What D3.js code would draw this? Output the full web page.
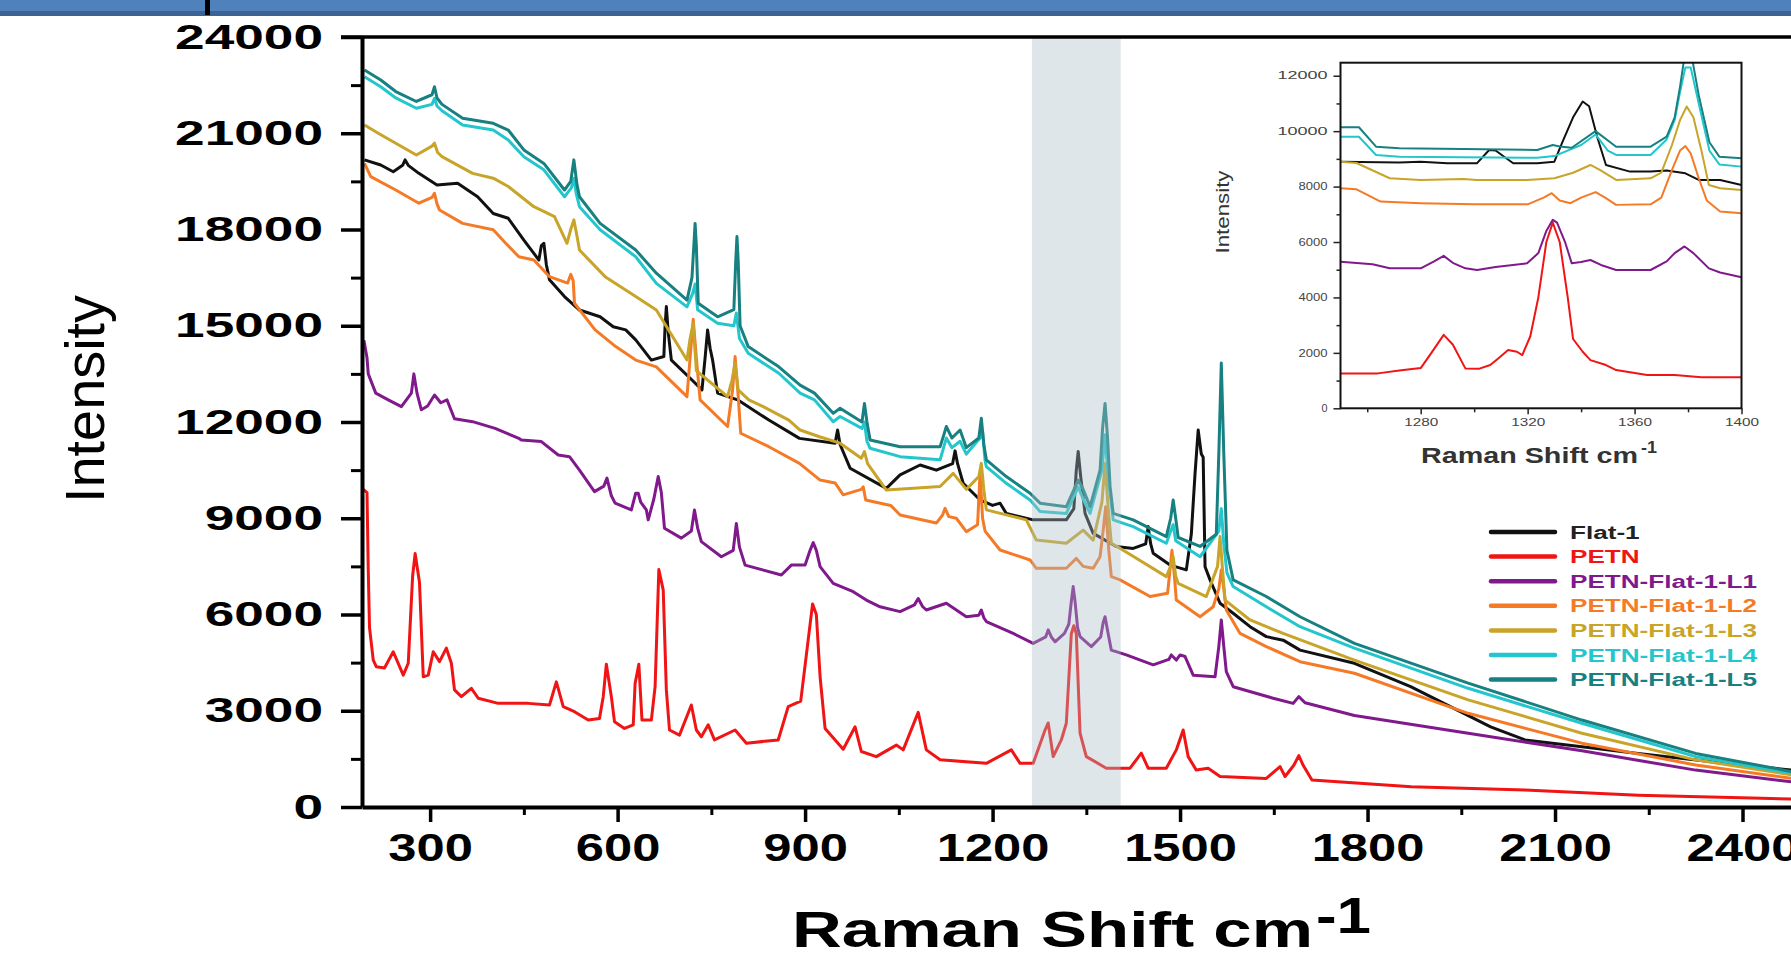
<!DOCTYPE html>
<html>
<head>
<meta charset="utf-8">
<script src="https://cdn.jsdelivr.net/npm/d3@7"></script>
<style>
  body { margin: 0; background: #fff; }
  svg { display: block; font-family: "Liberation Sans", Arial, sans-serif; }
</style>
</head>
<body>
<div id="chart"></div>
<script>
// series, in drawing order
const seriesNames = ["Flat-1", "PETN", "PETN-Flat-1-L1", "PETN-Flat-1-L2", "PETN-Flat-1-L3", "PETN-Flat-1-L4", "PETN-Flat-1-L5"];
const seriesColors = ["#111111", "#f01414", "#80198c", "#f57a26", "#c8a428", "#22c6cc", "#178080"];

// main spectra: [raman shift, intensity]
const flat1 = [[195,20170],[221,20010],[241,19800],[256,20000],[260,20170],[265,20000],[282,19750],[311,19390],[344,19440],[376,19020],[401,18500],[425,18350],[450,17670],[474,17050],[478,17500],[482,17570],[486,16900],[491,16430],[515,15910],[539,15490],[572,15280],[593,14970],[613,14870],[629,14560],[654,13930],[674,14040],[676,15000],[678,15600],[681,14800],[686,13930],[719,13310],[735,13000],[740,14000],[744,14870],[748,14300],[752,13930],[760,12900],[792,12690],[842,12060],[891,11490],[948,11340],[952,11750],[956,11300],[972,10560],[1030,9930],[1052,10350],[1084,10660],[1110,10500],[1136,10700],[1140,11100],[1144,10700],[1153,10090],[1180,9570],[1200,9400],[1212,9470],[1222,9150],[1265,8950],[1318,8950],[1330,9300],[1334,10500],[1337,11080],[1341,10300],[1348,9150],[1361,8530],[1398,8120],[1425,8060],[1445,8200],[1449,8740],[1453,8200],[1457,7910],[1484,7540],[1510,7390],[1518,8500],[1524,10400],[1529,11750],[1534,11000],[1537,10900],[1540,7490],[1548,7080],[1564,6350],[1585,6040],[1612,5620],[1638,5310],[1665,5200],[1692,4890],[1779,4480],[1869,3750],[1997,2500],[2052,2090],[2143,1880],[2233,1670],[2397,1310],[2480,1150]];
const petn = [[193,9900],[199,9800],[201,7400],[203,5600],[209,4580],[214,4370],[227,4330],[241,4840],[257,4110],[265,4480],[272,7200],[276,7900],[283,7000],[289,4060],[297,4110],[305,4840],[315,4530],[326,4950],[334,4480],[339,3650],[350,3440],[366,3700],[377,3390],[409,3230],[457,3230],[491,3180],[502,3900],[513,3130],[531,2970],[553,2710],[571,2760],[577,3440],[582,4450],[590,3440],[595,2660],[611,2450],[625,2560],[628,3850],[634,4450],[639,2710],[654,2710],[660,3750],[666,7400],[673,6760],[678,3650],[683,2400],[699,2240],[718,3180],[726,2400],[734,2190],[745,2560],[755,2090],[788,2400],[806,1990],[857,2090],[873,3130],[893,3300],[912,6330],[918,6000],[924,4060],[932,2450],[961,1800],[980,2500],[990,1730],[1014,1570],[1046,1930],[1057,1780],[1081,2950],[1094,1780],[1116,1470],[1190,1360],[1230,1780],[1244,1360],[1265,1360],[1284,2400],[1289,2620],[1297,1570],[1310,2090],[1318,2610],[1326,5400],[1330,5650],[1334,5400],[1340,2300],[1350,1570],[1382,1210],[1420,1210],[1438,1680],[1449,1210],[1478,1210],[1494,1780],[1505,2400],[1513,1570],[1526,1150],[1545,1210],[1564,950],[1638,890],[1660,1260],[1668,950],[1682,1300],[1690,1600],[1697,1300],[1711,840],[1870,630],[2052,530],[2233,370],[2415,280],[2480,250]];
const petnL1 = [[194,14550],[199,14000],[201,13500],[213,12900],[233,12690],[254,12480],[270,12900],[274,13500],[279,12900],[286,12380],[296,12500],[307,12840],[317,12600],[327,12690],[339,12100],[368,12010],[404,11800],[442,11490],[446,11440],[478,11390],[505,10970],[523,10920],[531,10710],[539,10500],[563,9830],[578,10000],[583,10250],[590,9700],[596,9470],[622,9260],[629,9780],[633,9780],[637,9500],[646,9260],[649,8950],[658,9600],[665,10300],[670,9800],[675,8690],[702,8380],[718,8600],[723,9260],[728,8700],[734,8270],[766,7800],[785,8000],[790,8840],[795,8100],[804,7540],[862,7230],[878,7540],[900,7540],[908,8000],[913,8240],[918,8000],[924,7490],[945,6970],[977,6710],[998,6450],[1020,6240],[1052,6090],[1075,6300],[1081,6500],[1088,6250],[1094,6140],[1126,6350],[1158,5930],[1178,5980],[1182,6140],[1186,5900],[1190,5780],[1233,5410],[1265,5100],[1285,5300],[1289,5520],[1294,5300],[1300,5150],[1315,5410],[1322,5700],[1326,6400],[1329,6870],[1332,6400],[1336,5600],[1340,5310],[1358,5000],[1373,5300],[1377,5750],[1380,5930],[1384,5500],[1390,4890],[1414,4740],[1457,4430],[1482,4600],[1486,4740],[1494,4580],[1500,4740],[1508,4690],[1521,4110],[1556,4060],[1562,5000],[1566,5830],[1570,5000],[1574,4220],[1585,3750],[1649,3390],[1681,3230],[1690,3440],[1700,3250],[1779,2850],[1961,2300],[2143,1750],[2325,1150],[2480,780]];
const petnL2 = [[195,20060],[205,19650],[245,19230],[282,18820],[303,19000],[307,19130],[311,18800],[315,18610],[352,18190],[401,17990],[421,17570],[442,17150],[466,17050],[491,16530],[520,16330],[525,16600],[529,16400],[531,15700],[564,14870],[597,14350],[629,13930],[662,13720],[711,12790],[716,14000],[721,15200],[726,14000],[732,12690],[776,11860],[784,13000],[788,14040],[793,12800],[797,11650],[842,11230],[891,10710],[924,10190],[948,10100],[961,9730],[990,9900],[993,9980],[997,9570],[1037,9400],[1052,9100],[1110,8850],[1120,9100],[1124,9310],[1130,9050],[1142,9000],[1158,8580],[1176,8800],[1180,10400],[1184,9000],[1188,8600],[1212,8010],[1260,7700],[1270,7440],[1318,7440],[1334,7750],[1345,7500],[1361,7440],[1372,7800],[1377,8630],[1381,9360],[1386,8000],[1390,7180],[1404,7080],[1452,6560],[1480,6660],[1484,7400],[1487,8000],[1491,7200],[1494,6450],[1532,5930],[1553,6240],[1562,6800],[1566,7390],[1570,6800],[1574,6140],[1596,5410],[1638,5000],[1692,4530],[1779,4170],[1961,2920],[2143,1990],[2325,1310],[2480,890]];
const petnL3 = [[195,21260],[217,21000],[245,20690],[278,20320],[303,20600],[307,20690],[312,20400],[319,20270],[368,19750],[401,19600],[425,19340],[466,18710],[499,18400],[519,17570],[525,18000],[530,18300],[535,17800],[539,17360],[580,16530],[629,15910],[662,15490],[711,13930],[716,14600],[721,15080],[726,13600],[776,12790],[783,13300],[788,13830],[793,13000],[810,12690],[833,12480],[874,12060],[892,11750],[923,11540],[956,11340],[990,10870],[995,11080],[1000,10700],[1030,9880],[1116,9990],[1137,10400],[1158,9900],[1178,10300],[1182,10710],[1186,9900],[1190,9260],[1254,8950],[1270,8320],[1318,8220],[1345,8630],[1361,8320],[1375,9500],[1380,10710],[1385,9300],[1390,8220],[1417,7910],[1478,7180],[1485,7500],[1489,7800],[1493,7200],[1497,6970],[1542,6560],[1560,7500],[1564,8430],[1568,7400],[1572,6450],[1612,5830],[1665,5410],[1779,4580],[1961,3340],[2143,2300],[2325,1470],[2480,1000]];
const petnL4 = [[195,22760],[221,22450],[245,22100],[278,21780],[303,21900],[307,22090],[311,21850],[319,21700],[352,21260],[401,21100],[425,20790],[450,20270],[482,19860],[515,19020],[526,19300],[530,19600],[534,19100],[539,18710],[572,17990],[629,17150],[662,16320],[711,15590],[720,16000],[724,16300],[728,15500],[760,15080],[786,15000],[790,15400],[795,14600],[809,14140],[858,13520],[892,12900],[915,12690],[945,12010],[956,12170],[991,11800],[995,12000],[999,11400],[1004,11180],[1052,10920],[1116,10820],[1126,11500],[1135,11200],[1148,11400],[1158,11000],[1180,11500],[1184,11700],[1188,10800],[1190,10610],[1222,10090],[1260,9570],[1276,9210],[1318,9150],[1337,9980],[1345,9600],[1356,9150],[1375,10500],[1380,11600],[1385,10300],[1393,8950],[1425,8740],[1478,8220],[1485,8600],[1489,8800],[1493,8300],[1532,7800],[1562,8600],[1566,9300],[1570,8200],[1575,7300],[1585,6870],[1638,6240],[1692,5620],[1779,4950],[1961,3700],[2143,2610],[2325,1570],[2480,1050]];
const petnL5 = [[195,22970],[221,22660],[245,22300],[278,21990],[303,22200],[307,22450],[311,22100],[319,21900],[352,21470],[401,21310],[425,21100],[450,20480],[482,20060],[515,19230],[525,19500],[530,20170],[535,19400],[539,19020],[572,18190],[629,17360],[662,16640],[711,15800],[719,16500],[722,17500],[724,18190],[726,17500],[729,15700],[760,15280],[786,15500],[789,17000],[791,17780],[793,17000],[796,15000],[809,14350],[858,13720],[892,13150],[915,12900],[945,12270],[956,12430],[991,12000],[995,12580],[999,12000],[1004,11440],[1052,11230],[1116,11230],[1122,11600],[1126,11860],[1135,11500],[1148,11750],[1158,11200],[1178,11500],[1182,12120],[1186,11300],[1190,10820],[1222,10300],[1260,9780],[1276,9470],[1318,9360],[1337,10190],[1345,9900],[1356,9360],[1372,10500],[1376,11800],[1380,12580],[1384,11500],[1388,10000],[1393,9150],[1425,8950],[1478,8430],[1485,9000],[1489,9570],[1493,9000],[1497,8400],[1532,8120],[1558,8500],[1562,11000],[1566,13840],[1570,11000],[1575,8000],[1585,7080],[1638,6560],[1692,5930],[1779,5100],[1961,3860],[2143,2710],[2325,1670],[2480,1100]];

// inset spectra, 1250-1400 cm-1
const insetFlat1 = [[1250,8900],[1272,8870],[1280,8900],[1290,8840],[1301,8840],[1305.6,9320],[1308,9300],[1314.6,8840],[1323.6,8840],[1330,8900],[1333,9600],[1337,10500],[1340.6,11070],[1343,10900],[1346,9800],[1349.3,8780],[1358.3,8540],[1366,8540],[1372,8580],[1379,8480],[1384,8240],[1392,8240],[1400,8060]];
const insetPetn = [[1250,1260],[1264,1260],[1272,1360],[1280,1450],[1284,2000],[1288.6,2650],[1292,2300],[1296.7,1440],[1302,1430],[1306,1560],[1309,1800],[1312.7,2100],[1316,2040],[1318,1920],[1321,2600],[1324,4000],[1327,6000],[1329.4,6700],[1332,6000],[1335,4000],[1337,2500],[1340.6,2040],[1343.5,1740],[1349.3,1560],[1353.1,1380],[1364.7,1200],[1375,1200],[1385,1120],[1400,1120]];
const insetL1 = [[1250,5290],[1262,5200],[1268.4,5050],[1280,5050],[1285,5300],[1288.6,5500],[1292,5250],[1296.7,5050],[1301.1,4990],[1308,5100],[1319.8,5230],[1324,5600],[1327,6400],[1329.4,6800],[1331,6700],[1334,6000],[1336.5,5230],[1340,5280],[1343.5,5350],[1348,5150],[1353.1,4990],[1366,4990],[1372,5300],[1375,5600],[1378.7,5840],[1382,5600],[1387.8,5050],[1392,4900],[1400,4730]];
const insetL2 = [[1250,7940],[1256,7900],[1265,7460],[1280,7400],[1300,7360],[1320,7360],[1326,7600],[1329,7760],[1332,7500],[1336,7400],[1340,7600],[1345.4,7800],[1349,7600],[1353.1,7340],[1366,7360],[1370,7600],[1374,8600],[1377,9300],[1379,9460],[1381,9200],[1384,8300],[1387,7500],[1392,7100],[1400,7040]];
const insetL3 = [[1250,8900],[1256,8850],[1268.4,8300],[1280,8240],[1296,8270],[1301,8240],[1319.8,8240],[1330,8300],[1337,8500],[1343.5,8780],[1347,8600],[1353.1,8240],[1366,8300],[1370,8500],[1374,9500],[1377,10400],[1379.5,10890],[1382,10500],[1385,9300],[1387.8,8060],[1392,7940],[1400,7880]];
const insetL4 = [[1250,9800],[1256.9,9800],[1263.3,9140],[1272,9080],[1323.6,9040],[1330,9100],[1340,9500],[1345.4,9880],[1350,9300],[1353.1,9140],[1366,9140],[1372,9700],[1375,10400],[1377,11400],[1379,12300],[1381,12300],[1384,11000],[1388,9300],[1391.7,8800],[1400,8720]];
const insetL5 = [[1250,10140],[1256.9,10140],[1263.3,9440],[1272,9380],[1323.6,9320],[1329.4,9500],[1332,9450],[1336.5,9400],[1345.4,10000],[1353.1,9440],[1366,9440],[1372,9800],[1375,10500],[1377,11600],[1379,12900],[1381,12900],[1384,11300],[1388,9600],[1391.7,9080],[1400,9020]];

const mainSeries = [flat1, petn, petnL1, petnL2, petnL3, petnL4, petnL5];
const insetSeries = [insetFlat1, insetPetn, insetL1, insetL2, insetL3, insetL4, insetL5];

const xTicks = [300, 600, 900, 1200, 1500, 1800, 2100, 2400];
const xMinor = [450, 750, 1050, 1350, 1650, 1950, 2250];
const yTicks = [0, 3000, 6000, 9000, 12000, 15000, 18000, 21000, 24000];
const yMinor = [1500, 4500, 7500, 10500, 13500, 16500, 19500, 22500];
const insetXTicks = [1280, 1320, 1360, 1400];
const insetXMinor = [1260, 1300, 1340, 1380];
const insetYTicks = [0, 2000, 4000, 6000, 8000, 10000, 12000];
const insetYMinor = [1000, 3000, 5000, 7000, 9000, 11000];
const band = [1263, 1405];

const W = 1791, H = 959;
const plain = d3.format("d");
const svg = d3.select("#chart").append("svg")
    .attr("width", W)
    .attr("height", H);

function stretch(sel, k) {
    sel.each(function () {
        const w = this.getComputedTextLength();
        d3.select(this).attr("textLength", w * k).attr("lengthAdjust", "spacingAndGlyphs");
    });
}

// slide banner at the top
svg.append("rect").attr("x", 0).attr("y", 0).attr("width", W).attr("height", 12).attr("fill", "#4f81bd");
svg.append("rect").attr("x", 0).attr("y", 11).attr("width", W).attr("height", 5).attr("fill", "#3d6394");
svg.append("rect").attr("x", 205).attr("y", 0).attr("width", 5).attr("height", 15).attr("fill", "#000");

// main scales
const x = d3.scaleLinear().domain([191, 2500]).range([362, 1805]);
const y = d3.scaleLinear().domain([0, 24000]).range([807, 37]);

svg.append("clipPath").attr("id", "plotClip")
    .append("rect").attr("x", 362).attr("y", 37).attr("width", W - 362).attr("height", 770);

const line = d3.line().x(d => x(d[0])).y(d => y(d[1]));

svg.append("g")
    .attr("clip-path", "url(#plotClip)")
    .selectAll("path")
    .data(mainSeries)
    .enter().append("path")
    .attr("d", line)
    .attr("fill", "none")
    .attr("stroke", (d, i) => seriesColors[i])
    .attr("stroke-width", 3)
    .attr("stroke-linejoin", "round");

// highlighted region, drawn over the lines
svg.append("rect")
    .attr("x", x(band[0]))
    .attr("y", y(24000))
    .attr("width", x(band[1]) - x(band[0]))
    .attr("height", y(0) - y(24000))
    .attr("fill", "rgb(170,190,196)")
    .attr("opacity", 0.38);

// y axis
const yAxis = svg.append("g")
    .attr("transform", "translate(362,0)")
    .call(d3.axisLeft(y).tickValues(yTicks).tickFormat(plain).tickSize(21).tickPadding(18).tickSizeOuter(0));
yAxis.select(".domain").attr("stroke", "#000").attr("stroke-width", 4);
yAxis.selectAll(".tick line").attr("stroke", "#000").attr("stroke-width", 3.5);
yAxis.selectAll(".tick text")
    .attr("fill", "#000")
    .attr("font-family", "Liberation Sans, Arial, sans-serif")
    .attr("font-size", 35)
    .attr("font-weight", "bold")
    .call(stretch, 1.52);

const yMinorAxis = svg.append("g")
    .attr("transform", "translate(362,0)")
    .call(d3.axisLeft(y).tickValues(yMinor).tickSize(11).tickFormat(""));
yMinorAxis.select(".domain").remove();
yMinorAxis.selectAll(".tick line").attr("stroke", "#000").attr("stroke-width", 3);

// x axis
const xAxis = svg.append("g")
    .attr("transform", "translate(0,807)")
    .call(d3.axisBottom(x).tickValues(xTicks).tickFormat(plain).tickSize(15).tickPadding(11).tickSizeOuter(0));
xAxis.select(".domain").attr("stroke", "#000").attr("stroke-width", 4);
xAxis.selectAll(".tick line").attr("stroke", "#000").attr("stroke-width", 3.5);
xAxis.selectAll(".tick text")
    .attr("fill", "#000")
    .attr("font-family", "Liberation Sans, Arial, sans-serif")
    .attr("font-size", 39)
    .attr("font-weight", "bold")
    .call(stretch, 1.3);

const xMinorAxis = svg.append("g")
    .attr("transform", "translate(0,807)")
    .call(d3.axisBottom(x).tickValues(xMinor).tickSize(8).tickFormat(""));
xMinorAxis.select(".domain").remove();
xMinorAxis.selectAll(".tick line").attr("stroke", "#000").attr("stroke-width", 3);

// top frame line
svg.append("line")
    .attr("x1", 341).attr("x2", W)
    .attr("y1", y(24000)).attr("y2", y(24000))
    .attr("stroke", "#000").attr("stroke-width", 3.5);

// axis titles
svg.append("text")
    .attr("transform", "translate(104,399) rotate(-90)")
    .attr("text-anchor", "middle")
    .attr("font-size", 56)
    .attr("textLength", 208)
    .attr("lengthAdjust", "spacingAndGlyphs")
    .text("Intensity");

svg.append("text")
    .attr("x", 792).attr("y", 947)
    .attr("font-size", 50)
    .attr("font-weight", "bold")
    .attr("textLength", 521)
    .attr("lengthAdjust", "spacingAndGlyphs")
    .text("Raman Shift cm");
svg.append("text")
    .attr("x", 1316).attr("y", 933)
    .attr("font-size", 50)
    .attr("font-weight", "bold")
    .attr("textLength", 55)
    .attr("lengthAdjust", "spacingAndGlyphs")
    .text("-1");

// legend
const legend = svg.append("g")
    .selectAll("g")
    .data(seriesNames)
    .enter().append("g")
    .attr("transform", (d, i) => `translate(0,${532 + i * 24.6})`);

legend.append("line")
    .attr("x1", 1491).attr("x2", 1555)
    .attr("stroke", (d, i) => seriesColors[i])
    .attr("stroke-width", 4.5)
    .attr("stroke-linecap", "round");

legend.append("text")
    .attr("x", 1570).attr("y", 6.5)
    .attr("font-size", 18)
    .attr("font-weight", "bold")
    .attr("fill", (d, i) => i === 0 ? "#222" : seriesColors[i])
    .text(d => d)
    .call(stretch, 1.45);

// inset
const ix = d3.scaleLinear().domain([1250, 1400]).range([1340.5, 1741.5]);
const iy = d3.scaleLinear().domain([0, 12470]).range([408.3, 62.7]);
const inset = svg.append("g");

inset.append("clipPath").attr("id", "insetClip")
    .append("rect").attr("x", 1340.5).attr("y", 62.7).attr("width", 401).attr("height", 345.6);

const insetLine = d3.line().x(d => ix(d[0])).y(d => iy(d[1]));

inset.append("g")
    .attr("clip-path", "url(#insetClip)")
    .selectAll("path")
    .data(insetSeries)
    .enter().append("path")
    .attr("d", insetLine)
    .attr("fill", "none")
    .attr("stroke", (d, i) => seriesColors[i])
    .attr("stroke-width", 2)
    .attr("stroke-linejoin", "round");

inset.append("rect")
    .attr("x", 1340.5).attr("y", 62.7)
    .attr("width", 401).attr("height", 345.6)
    .attr("fill", "none")
    .attr("stroke", "#111")
    .attr("stroke-width", 2);

const iyAxis = inset.append("g")
    .attr("transform", "translate(1340.5,0)")
    .call(d3.axisLeft(iy).tickValues(insetYTicks).tickFormat(plain).tickSize(7).tickPadding(6).tickSizeOuter(0));
iyAxis.select(".domain").remove();
iyAxis.selectAll(".tick line").attr("stroke", "#222").attr("stroke-width", 1.5);
iyAxis.selectAll(".tick text")
    .attr("fill", "#444")
    .attr("font-family", "Liberation Sans, Arial, sans-serif")
    .attr("font-size", 10)
    .attr("textLength", d => d === 0 ? 6 : (d >= 10000 ? 50 : 29))
    .attr("lengthAdjust", "spacingAndGlyphs");

const iyMinorAxis = inset.append("g")
    .attr("transform", "translate(1340.5,0)")
    .call(d3.axisLeft(iy).tickValues(insetYMinor).tickSize(4).tickFormat(""));
iyMinorAxis.select(".domain").remove();
iyMinorAxis.selectAll(".tick line").attr("stroke", "#222").attr("stroke-width", 1.5);

const ixAxis = inset.append("g")
    .attr("transform", "translate(0,408.3)")
    .call(d3.axisBottom(ix).tickValues(insetXTicks).tickFormat(plain).tickSize(6).tickPadding(5).tickSizeOuter(0));
ixAxis.select(".domain").remove();
ixAxis.selectAll(".tick line").attr("stroke", "#222").attr("stroke-width", 1.5);
ixAxis.selectAll(".tick text")
    .attr("fill", "#444")
    .attr("font-family", "Liberation Sans, Arial, sans-serif")
    .attr("font-size", 10)
    .attr("textLength", 34)
    .attr("lengthAdjust", "spacingAndGlyphs");

const ixMinorAxis = inset.append("g")
    .attr("transform", "translate(0,408.3)")
    .call(d3.axisBottom(ix).tickValues(insetXMinor).tickSize(4).tickFormat(""));
ixMinorAxis.select(".domain").remove();
ixMinorAxis.selectAll(".tick line").attr("stroke", "#222").attr("stroke-width", 1.5);

inset.append("text")
    .attr("transform", "translate(1229,212) rotate(-90)")
    .attr("text-anchor", "middle")
    .attr("font-size", 19)
    .attr("fill", "#333")
    .attr("textLength", 83)
    .attr("lengthAdjust", "spacingAndGlyphs")
    .text("Intensity");

inset.append("text")
    .attr("x", 1421).attr("y", 463)
    .attr("font-size", 22)
    .attr("font-weight", "bold")
    .attr("fill", "#333")
    .attr("textLength", 217)
    .attr("lengthAdjust", "spacingAndGlyphs")
    .text("Raman Shift cm");
inset.append("text")
    .attr("x", 1641).attr("y", 453)
    .attr("font-size", 17)
    .attr("font-weight", "bold")
    .attr("fill", "#333")
    .attr("textLength", 16)
    .attr("lengthAdjust", "spacingAndGlyphs")
    .text("-1");
</script>
</body>
</html>
